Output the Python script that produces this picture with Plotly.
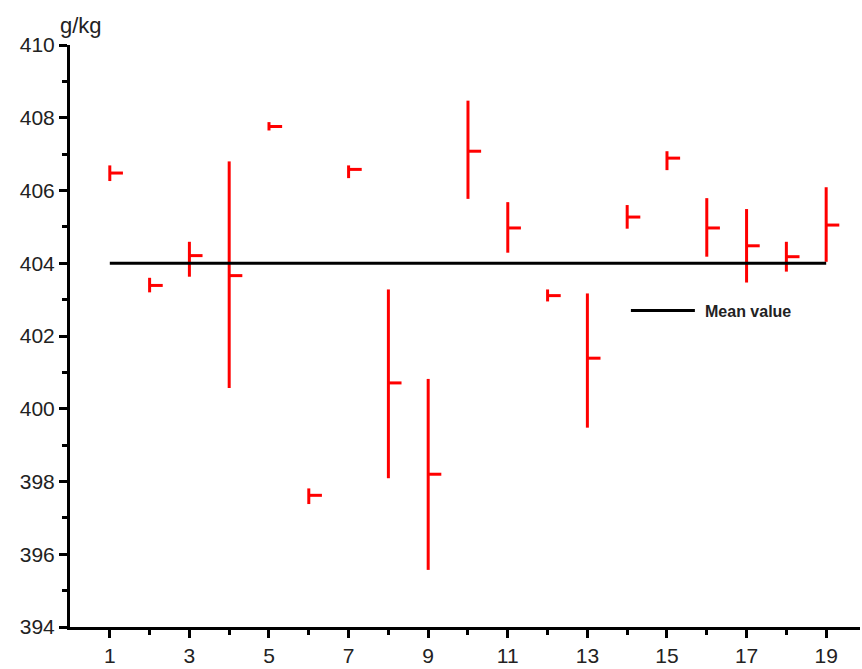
import plotly.graph_objects as go

samples = list(range(1, 20))
mins = [406.26, 403.2, 403.63, 400.57, 407.65, 397.38, 406.34, 398.09, 395.57, 405.77,
        404.29, 402.95, 399.48, 404.95, 406.56, 404.18, 403.47, 403.77, 404.04]
maxs = [406.69, 403.6, 404.59, 406.80, 407.88, 397.81, 406.69, 403.28, 400.82, 408.47,
        405.68, 403.28, 403.17, 405.60, 407.08, 405.79, 405.49, 404.59, 406.09]
means = [406.48, 403.39, 404.21, 403.66, 407.76, 397.62, 406.58, 400.71, 398.20, 407.08,
         404.97, 403.11, 401.39, 405.27, 406.89, 404.97, 404.48, 404.18, 405.05]
overall_mean = 404.0
y_ticks = [394, 396, 398, 400, 402, 404, 406, 408, 410]
y_minor = [395, 397, 399, 401, 403, 405, 407, 409]
x_ticks = [1, 3, 5, 7, 9, 11, 13, 15, 17, 19]
x_minor = [2, 4, 6, 8, 10, 12, 14, 16, 18]

TICK_LEN = 0.33
vx, vy, hx, hy = [], [], [], []
for s, lo, hi, m in zip(samples, mins, maxs, means):
    vx += [s, s, None]
    vy += [lo, hi, None]
    hx += [s, s + TICK_LEN, None]
    hy += [m, m, None]

fig = go.Figure()
fig.add_trace(go.Scatter(x=vx, y=vy, mode="lines", line=dict(color="#ff0000", width=3),
                         showlegend=False, hoverinfo="skip"))
fig.add_trace(go.Scatter(x=hx, y=hy, mode="lines", line=dict(color="#ff0000", width=3),
                         showlegend=False, hoverinfo="skip"))
fig.add_trace(go.Scatter(x=[samples[0], samples[-1]], y=[overall_mean, overall_mean],
                         mode="lines", line=dict(color="black", width=3),
                         name="Mean value", showlegend=False))

FONT = "Liberation Sans, Arial, sans-serif"
common = dict(showgrid=False, zeroline=False, showline=True, linecolor="black", linewidth=3,
              ticks="outside", ticklen=8, tickwidth=3, tickcolor="black")
fig.update_layout(
    width=862, height=669,
    margin=dict(l=70, r=2, t=45, b=35),
    plot_bgcolor="white", paper_bgcolor="white",
    showlegend=False,
    xaxis=dict(range=[0, 19.85], tickmode="array", tickvals=x_ticks,
               tickfont=dict(family=FONT, size=21, color="#222"),
               minor=dict(tickmode="array", tickvals=x_minor, ticks="outside", ticklen=5,
                          tickwidth=3, tickcolor="black", showgrid=False),
               **common),
    yaxis=dict(range=[394, 410], tickmode="array", tickvals=y_ticks,
               tickfont=dict(family=FONT, size=21, color="#222"),
               minor=dict(tickmode="array", tickvals=y_minor, ticks="outside", ticklen=5,
                          tickwidth=3, tickcolor="black", showgrid=False),
               **common),
    shapes=[dict(type="line", xref="paper", yref="paper", x0=0.710, x1=0.791,
                 y0=0.544, y1=0.544, line=dict(color="black", width=3))],
    annotations=[
        dict(text="g/kg", xref="paper", yref="paper", x=0, y=1, xshift=-12,
             yshift=5, xanchor="left", yanchor="bottom", showarrow=False,
             font=dict(family=FONT, size=22, color="#222")),
        dict(text="<b>Mean value</b>", xref="paper", yref="paper", x=0.801, y=0.542,
             xanchor="left", yanchor="middle", showarrow=False,
             font=dict(family=FONT, size=16, color="#222")),
    ],
)

post = ("document.documentElement.style.margin='0';document.body.style.margin='0';")
fig.write_html("out.html", config={"displayModeBar": False}, post_script=post)
